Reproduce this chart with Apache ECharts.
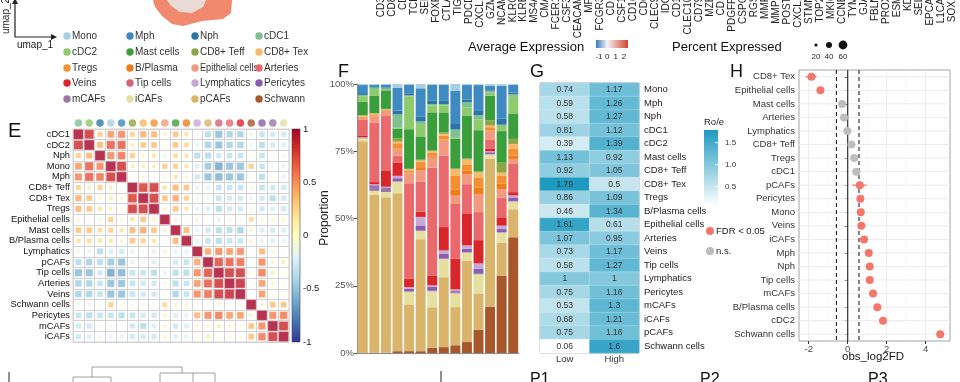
<!DOCTYPE html>
<html><head><meta charset="utf-8">
<script src="https://cdn.jsdelivr.net/npm/echarts@6.0.0/dist/echarts.min.js"></script>
<style>html,body{margin:0;padding:0;background:#fff}#c{width:960px;height:382px}</style>
</head><body><div id="c"></div>
<script>
// ---------- DATA ----------
const cellTypes = ['Mono','Mph','Nph','cDC1','cDC2','Mast cells','CD8+ Teff','CD8+ Tex','Tregs','B/Plasma','Epithelial cells','Arteries','Veins','Tip cells','Lymphatics','Pericytes','mCAFs','iCAFs','pCAFs','Schwann'];
const cellColors = ['#a6cfe3','#3f8bc1','#2a76a6','#80c190','#8dcb6c','#3a9f3a','#8ea545','#f9b86a','#f39132','#f07d1a','#f29a80','#e9696c','#d9262a','#d4647e','#c6a8d8','#8a5daf','#9b76a8','#e5e0a0','#d9b46a','#a8572a'];

const corrLabels = ['cDC1','cDC2','Nph','Mono','Mph','CD8+ Teff','CD8+ Tex','Tregs','Epithelial cells','Mast cells','B/Plasma cells','Lymphatics','pCAFs','Tip cells','Arteries','Veins','Schwann cells','Pericytes','mCAFs','iCAFs'];
const corrMatrix = [
[1.00,0.85,0.30,0.50,0.55,0.28,0.42,0.40,0.10,0.35,0.20,-0.15,-0.40,-0.55,-0.45,-0.45,-0.15,-0.35,-0.30,-0.30],
[0.85,1.00,0.40,0.70,0.70,0.15,0.35,0.35,0.05,0.35,0.25,-0.20,-0.45,-0.55,-0.45,-0.45,-0.15,-0.40,-0.30,-0.25],
[0.30,0.40,1.00,0.55,0.62,0.30,0.10,0.20,-0.15,0.25,0.20,-0.40,-0.40,-0.30,-0.35,-0.35,0.05,-0.35,0.05,-0.10],
[0.50,0.70,0.55,1.00,0.85,0.15,0.15,0.15,0.30,0.30,0.20,-0.25,-0.50,-0.65,-0.55,-0.55,0.30,-0.35,-0.10,-0.20],
[0.55,0.70,0.62,0.85,1.00,0.05,0.10,0.05,-0.10,0.20,0.10,-0.30,-0.55,-0.60,-0.55,-0.55,0.05,-0.40,-0.05,-0.20],
[0.28,0.15,0.30,0.15,0.05,1.00,0.80,0.85,0.20,0.40,0.35,-0.20,-0.20,-0.35,-0.35,-0.35,-0.10,-0.35,-0.30,-0.30],
[0.42,0.35,0.10,0.15,0.10,0.80,1.00,0.85,0.35,0.45,0.30,-0.10,-0.15,-0.35,-0.30,-0.30,-0.15,-0.30,-0.40,-0.30],
[0.40,0.35,0.20,0.15,0.05,0.85,0.85,1.00,0.10,0.35,0.20,-0.20,-0.25,-0.40,-0.30,-0.30,-0.10,-0.30,-0.25,-0.30],
[0.10,0.05,-0.15,0.30,-0.10,0.20,0.35,0.10,1.00,0.10,0.05,0.10,-0.05,-0.20,-0.10,-0.10,0.25,0.10,0.10,0.10],
[0.35,0.35,0.25,0.30,0.20,0.40,0.45,0.35,0.10,1.00,0.40,-0.20,-0.30,-0.40,-0.40,-0.45,0.10,-0.25,-0.30,-0.25],
[0.20,0.25,0.20,0.20,0.10,0.35,0.30,0.20,0.05,0.40,1.00,-0.20,-0.35,-0.40,-0.35,-0.35,0.10,-0.20,-0.25,-0.20],
[-0.15,-0.20,-0.40,-0.25,-0.30,-0.20,-0.10,-0.20,0.10,-0.20,-0.20,1.00,0.45,0.55,0.50,0.55,0.05,0.40,0.10,0.05],
[-0.40,-0.45,-0.40,-0.50,-0.55,-0.20,-0.15,-0.25,-0.05,-0.30,-0.35,0.45,1.00,0.75,0.70,0.65,-0.05,0.55,0.10,0.15],
[-0.55,-0.55,-0.30,-0.65,-0.60,-0.35,-0.35,-0.40,-0.20,-0.40,-0.40,0.55,0.75,1.00,0.85,0.85,0.05,0.60,0.15,0.05],
[-0.45,-0.45,-0.35,-0.55,-0.55,-0.35,-0.30,-0.30,-0.10,-0.40,-0.35,0.50,0.70,0.85,1.00,0.90,0.05,0.50,0.10,0.05],
[-0.45,-0.45,-0.35,-0.55,-0.55,-0.35,-0.30,-0.30,-0.10,-0.45,-0.35,0.55,0.65,0.85,0.90,1.00,0.05,0.50,0.05,0.05],
[-0.15,-0.15,0.05,0.30,0.05,-0.10,-0.15,-0.10,0.25,0.10,0.10,0.05,-0.05,0.05,0.05,0.05,1.00,0.10,0.35,0.35],
[-0.35,-0.40,-0.35,-0.35,-0.40,-0.35,-0.30,-0.30,0.10,-0.25,-0.20,0.40,0.55,0.60,0.50,0.50,0.10,1.00,0.55,0.60],
[-0.30,-0.30,0.05,-0.10,-0.05,-0.30,-0.40,-0.25,0.10,-0.30,-0.25,0.10,0.10,0.15,0.10,0.05,0.35,0.55,1.00,0.85],
[-0.30,-0.25,-0.10,-0.20,-0.20,-0.30,-0.30,-0.30,0.10,-0.25,-0.20,0.05,0.15,0.05,0.05,0.05,0.35,0.60,0.85,1.00]
];
const corrTicks = ['1','0.5','0','-0.5','-1'];

const sampleNames = ['S1','S2','S3','S4','S5','S6','S7','S8','S9','S10','S11','S12','S13','S14'];
// rows follow cellTypes order, columns follow sampleNames
const propRows = [
[0.4,0.3,0.2,1.5,0.2,1.6,0.3,0.3,2.5,0.4,0.4,0.7,0.7,0.3],
[3.0,1.0,1.2,8.5,3.5,10.5,6.0,6.0,12.5,5.4,9.7,1.7,12.3,2.9],
[0.7,0.2,0.3,1.4,0.6,1.9,1.2,1.2,2.1,1.0,1.6,0.4,2.2,0.6],
[0.5,0.4,0.2,5.0,0.3,1.0,0.5,0.5,3.1,2.0,1.6,0.4,0.5,1.0],
[2.1,2.6,0.5,0.3,12.4,4.6,2.6,2.6,0.3,3.0,4.0,1.2,1.9,6.4],
[5.0,6.4,7.0,3.7,14.9,8.7,14.3,7.4,11.2,16.1,15.5,9.3,11.8,9.3],
[0.2,0.2,0.1,1.2,0.2,0.3,0.2,0.6,0.3,0.3,0.3,1.9,3.7,1.9],
[0.3,0.3,0.2,0.6,0.4,0.6,0.5,0.6,2.5,1.9,1.9,0.6,1.2,1.9],
[0.5,0.5,0.3,1.9,0.8,1.9,1.6,1.5,5.0,2.4,3.7,1.3,3.0,2.4],
[0.3,0.2,0.2,0.3,0.3,1.2,0.4,0.4,2.4,1.3,2.5,0.3,2.0,1.3],
[0.3,2.5,1.9,2.5,3.7,4.3,3.7,5.6,3.1,3.7,6.8,3.1,3.1,1.9],
[6.0,22.3,20.5,2.5,36.0,11.2,40.3,26.7,20.5,10.9,10.5,3.3,7.4,10.5],
[0.7,0.8,6.2,5.0,3.1,1.9,3.7,8.7,11.5,12.0,8.7,1.0,3.1,1.2],
[0.1,0.1,0.1,0.1,0.1,0.1,0.1,0.1,0.1,0.1,0.1,0.1,0.1,0.1],
[0.1,0.3,0.2,0.8,0.5,3.1,0.4,1.2,0.6,1.2,1.9,0.3,1.2,0.9],
[0.1,0.6,0.5,1.1,1.0,1.9,1.5,1.6,0.6,1.2,1.9,0.7,1.2,1.2],
[0.1,1.5,1.2,0.2,0.2,0.2,0.2,0.3,0.2,0.2,0.2,0.1,0.1,0.1],
[1.1,1.5,2.0,4.3,4.7,3.1,6.0,6.8,5.2,3.1,7.2,1.5,3.7,2.9],
[79.5,59.4,58.7,59.2,17.6,41.8,15.1,26.1,14.3,30.4,13.6,55.6,12.4,10.5],
[0.1,0.1,0.1,0.7,0.7,0.7,2.0,2.2,2.9,4.1,8.7,17.4,28.9,43.2]
];
const propTicks = [0,25,50,75,100];

const roeLabels = ['Mono','Mph','Nph','cDC1','cDC2','Mast cells','CD8+ Teff','CD8+ Tex','Tregs','B/Plasma cells','Epithelial cells','Arteries','Veins','Tip cells','Lymphatics','Pericytes','mCAFs','iCAFs','pCAFs','Schwann cells'];
const roeLow  = [0.74,0.59,0.58,0.81,0.39,1.13,0.92,1.79,0.86,0.46,1.61,1.07,0.73,0.58,1,0.75,0.53,0.68,0.75,0.06];
const roeHigh = [1.17,1.26,1.27,1.12,1.39,0.92,1.05,0.5,1.09,1.34,0.61,0.95,1.17,1.27,1,1.16,1.3,1.21,1.16,1.6];
const roeGroups = ['Low','High'];
const roeTicks = [1.5,1.0,0.5];

const fdLabels = ['CD8+ Tex','Epithelial cells','Mast cells','Arteries','Lymphatics','CD8+ Teff','Tregs','cDC1','pCAFs','Pericytes','Mono','Veins','iCAFs','Mph','Nph','Tip cells','mCAFs','B/Plasma cells','cDC2','Schwann cells'];
const fdValues = [-1.86,-1.40,-0.29,-0.19,-0.02,0.19,0.33,0.44,0.62,0.65,0.67,0.70,0.84,1.08,1.13,1.13,1.30,1.52,1.81,4.75];
const fdCiLow  = [-2.15,-1.50,-0.36,-0.26,-0.10,0.12,0.26,0.38,0.24,0.58,0.60,0.63,0.77,1.01,1.06,1.06,1.23,1.45,1.74,4.68];
const fdCiHigh = [-1.60,-1.30,-0.22,-0.12,0.06,0.26,0.40,0.50,0.96,0.72,0.74,0.77,0.91,1.15,1.20,1.20,1.37,1.59,1.88,4.82];
const fdSig = [1,1,0,0,0,0,0,0,1,1,1,1,1,1,1,1,1,1,1,1];
const fdMajor = [-2,0,2,4];
const fdMinor = [-1,1,3,5];
const fdThresh = [-0.58,0,0.58];

const genes = ['CD3D','CD8A','CD4','TCF7','SELL','FOXP3','CTLA4','TIGIT','PDCD1','CXCL13','GZMK','NCAM1','KLRC1','KLRB1','MS4A2','CMA1','FCER1A','CSF3R','CEACAM8','MPO','FCGR3B','CD14','CSF1R','CD163','CD68','CLEC9A','IDO1','CD1C','CLEC10A','CD79A','MZB1','CD19','PDGFRB','CSPG4','RGS5','MMP2','MMP11','POSTN','CXCL12','STMN1','TOP2A','MKI67','CCNB1','TYMS','GJA5','FBLN5','PROX1','ESM1','KDR','SELE','EPCAM','L1CAM','SOX10'];
const avgExprTicks = ['-1','0','1','2'];
const pctTicks = [20,40,60];

// ---------- BUILD ----------
const FONT = '"Liberation Sans", Arial, Helvetica, sans-serif';
const chart = echarts.init(document.getElementById('c'));
const colorOf = {};
cellTypes.forEach((t,i)=>{colorOf[t]=cellColors[i];});
colorOf['B/Plasma cells']=colorOf['B/Plasma'];
colorOf['Schwann cells']=colorOf['Schwann'];

const rdylbu = ['#313695','#4575b4','#74add1','#abd9e9','#e0f3f8','#ffffbf','#fee090','#fdae61','#f46d43','#d73027','#a50026'];

const corrData = [];
corrMatrix.forEach((row,ri)=>row.forEach((v,ci)=>corrData.push([ci,ri,v])));

const totals = sampleNames.map((s,j)=>propRows.reduce((a,r)=>a+r[j],0));
const propPct = propRows.map(r=>r.map((v,j)=>v/totals[j]*100));

const roeData = [];
roeLabels.forEach((l,i)=>{roeData.push([0,i,roeLow[i]]);roeData.push([1,i,roeHigh[i]]);});

const series = [];
series.push({type:'scatter',xAxisIndex:0,yAxisIndex:0,symbol:'rect',data:corrData,silent:true,
  symbolSize:v=>Math.max(1.3,Math.sqrt(Math.abs(v[2]))*10),
  itemStyle:{borderColor:'rgba(255,255,255,0.7)',borderWidth:0.6}});
series.push({type:'scatter',xAxisIndex:5,yAxisIndex:5,symbolSize:7.5,silent:true,
  data:corrLabels.map((l,i)=>({value:[i,0],itemStyle:{color:colorOf[l]}}))});
for(let i=cellTypes.length-1;i>=0;i--){
  series.push({type:'bar',name:cellTypes[i],stack:'prop',xAxisIndex:1,yAxisIndex:1,barCategoryGap:'14%',silent:true,
    itemStyle:{color:cellColors[i]},data:propPct[i]});
}
const gIdx = series.length;
series.push({type:'heatmap',xAxisIndex:2,yAxisIndex:2,data:roeData,silent:true,
  label:{show:true,fontSize:8.5,color:'#333',fontFamily:FONT,formatter:p=>String(p.data[2])},
  itemStyle:{borderColor:'rgba(255,255,255,0.45)',borderWidth:0.5}});
// H grid lines
series.push({type:'custom',xAxisIndex:3,yAxisIndex:3,silent:true,z:1,
  data:fdMajor.map(v=>[v,0,1]).concat(fdMinor.map(v=>[v,0,0])),
  renderItem:(params,api)=>{const cs=params.coordSys;const x=api.coord([api.value(0),0])[0];const major=api.value(2)===1;
    return {type:'line',shape:{x1:x,y1:cs.y,x2:x,y2:cs.y+cs.height},style:{stroke:major?'#ebebeb':'#f5f5f5',lineWidth:major?1:0.6}};}});
series.push({type:'custom',xAxisIndex:3,yAxisIndex:3,silent:true,z:1,
  data:fdLabels.map((l,i)=>[0,i]),
  renderItem:(params,api)=>{const cs=params.coordSys;const y=api.coord([0,api.value(1)])[1];
    return {type:'line',shape:{x1:cs.x,y1:y,x2:cs.x+cs.width,y2:y},style:{stroke:'#ebebeb',lineWidth:1}};}});
series.push({type:'custom',xAxisIndex:3,yAxisIndex:3,silent:true,z:2,
  data:fdThresh.map(v=>[v,0]),
  renderItem:(params,api)=>{const cs=params.coordSys;const v=api.value(0);const x=api.coord([v,0])[0];
    return {type:'line',shape:{x1:x,y1:cs.y,x2:x,y2:cs.y+cs.height},style:{stroke:'#222',lineWidth:1.1,lineDash:v===0?null:[4,3]}};}});
series.push({type:'custom',xAxisIndex:3,yAxisIndex:3,silent:true,z:3,
  data:fdLabels.map((l,i)=>[fdCiLow[i],i,fdCiHigh[i],fdSig[i]]),
  renderItem:(params,api)=>{const p1=api.coord([api.value(0),api.value(1)]);const p2=api.coord([api.value(2),api.value(1)]);
    return {type:'line',shape:{x1:p1[0],y1:p1[1],x2:p2[0],y2:p2[1]},style:{stroke:api.value(3)?'#f3766b':'#bdbdbd',lineWidth:1.3}};}});
series.push({type:'scatter',xAxisIndex:3,yAxisIndex:3,symbolSize:8,z:4,silent:true,
  data:fdValues.map((v,i)=>[v,i,fdSig[i]]),
  itemStyle:{opacity:1,color:p=>p.data[2]?'#f3766b':'#bdbdbd'}});
series.push({type:'scatter',xAxisIndex:4,yAxisIndex:4,data:[]});

const gridBase = {containLabel:false,outerBoundsMode:'none'};
const grids = [
  Object.assign({left:73,top:129,width:216,height:213,show:true,borderColor:'#d2d2d2',borderWidth:1,backgroundColor:'#fff'},gridBase),
  Object.assign({left:357,top:84,width:162,height:269},gridBase),
  Object.assign({left:540,top:83,width:99,height:270,show:true,borderColor:'#9a9a9a',borderWidth:1},gridBase),
  Object.assign({left:799,top:70,width:151,height:271,show:true,borderColor:'#8a8a8a',borderWidth:0.8},gridBase),
  Object.assign({left:375.5,top:-100,width:582,height:82},gridBase),
  Object.assign({left:73,top:118,width:216,height:10},gridBase)
];
const noLine={show:false}, noTick={show:false};
const xAxes = [
  {type:'category',gridIndex:0,data:corrLabels,position:'top',axisLabel:{show:false},axisLine:noLine,axisTick:noTick,
    splitLine:{show:true,interval:0,lineStyle:{color:'#d2d2d2',width:1}}},
  {type:'category',gridIndex:1,data:sampleNames,axisLabel:{show:false},axisTick:noTick,axisLine:{show:true,lineStyle:{color:'#8c8c8c',width:1}}},
  {type:'category',gridIndex:2,data:roeGroups,axisLabel:{fontSize:9.5,color:'#333',margin:1,fontFamily:FONT},axisTick:noTick,axisLine:noLine},
  {type:'value',gridIndex:3,min:-2.5,max:5.25,splitLine:{show:false},axisLine:noLine,
    axisLabel:{customValues:fdMajor,fontSize:9.5,color:'#4d4d4d',margin:3,fontFamily:FONT},
    axisTick:{show:true,customValues:fdMajor,length:3,lineStyle:{color:'#333'}}},
  {type:'category',gridIndex:4,data:genes,position:'bottom',axisLine:noLine,axisTick:noTick,
    axisLabel:{rotate:90,interval:0,fontSize:10,color:'#222',margin:8,fontFamily:FONT}},
  {type:'category',gridIndex:5,data:corrLabels,show:false}
];
const yAxes = [
  {type:'category',gridIndex:0,data:corrLabels,inverse:true,axisLine:noLine,axisTick:noTick,
    axisLabel:{interval:0,fontSize:9.3,color:'#111',margin:3,fontFamily:FONT},
    splitLine:{show:true,interval:0,lineStyle:{color:'#d2d2d2',width:1}}},
  {type:'value',gridIndex:1,min:0,max:100,interval:25,splitLine:{show:false},
    axisLine:{show:true,lineStyle:{color:'#8c8c8c'}},axisTick:{show:true,length:3,lineStyle:{color:'#555'}},
    axisLabel:{formatter:'{value}%',fontSize:9.5,color:'#555',margin:3,fontFamily:FONT}},
  {type:'category',gridIndex:2,data:roeLabels,inverse:true,position:'right',axisLine:noLine,axisTick:noTick,
    axisLabel:{interval:0,fontSize:9.5,color:'#222',margin:5,fontFamily:FONT}},
  {type:'category',gridIndex:3,data:fdLabels,inverse:true,axisLine:noLine,
    axisTick:{show:true,interval:0,alignWithLabel:true,length:3,lineStyle:{color:'#333'}},
    axisLabel:{interval:0,fontSize:9.5,color:'#333',margin:4,fontFamily:FONT},splitLine:{show:false}},
  {type:'value',gridIndex:4,show:false},
  {type:'value',gridIndex:5,show:false,min:-1,max:1}
];

// ---------- GRAPHICS (legends, labels) ----------
const g = [];
const txt = (x,y,text,o)=>Object.assign({type:'text',x:x,y:y,silent:true,style:Object.assign({text:text,fontFamily:FONT,fontSize:10,fill:'#222',textVerticalAlign:'middle'},o||{})});
// umap fragment
g.push({type:'polygon',silent:true,shape:{points:[[153,0],[232,0],[231,13],[223,19],[202,21],[183,26],[172,24],[162,16],[155,7]]},style:{fill:'#f0896d'}});
g.push({type:'polygon',silent:true,shape:{points:[[167,0],[206,0],[203,7],[192,13],[180,12],[171,6]]},style:{fill:'#e9dcd7'}});
g.push({type:'polyline',silent:true,shape:{points:[[15,3],[15,37],[53,37]]},style:{stroke:'#222',lineWidth:1.2,fill:null}});
g.push({type:'polygon',silent:true,shape:{points:[[51,34],[57,37],[51,40]]},style:{fill:'#222'}});
g.push({type:'polygon',silent:true,shape:{points:[[12,4],[15,-2],[18,4]]},style:{fill:'#222'}});
g.push(Object.assign(txt(6,16,'umap_2',{textAlign:'center',fontSize:10}),{rotation:Math.PI/2}));
g.push(txt(35,45,'umap_1',{textAlign:'center',fontSize:10}));
// cell type legend
const legX=[67,130,195,259], legY=[36,52,68,83,99];
const mctx=document.createElement('canvas').getContext('2d'); mctx.font='10px '+FONT;
cellTypes.forEach((t,i)=>{
  const cx=legX[i%4], cy=legY[Math.floor(i/4)];
  g.push({type:'circle',silent:true,shape:{cx:cx,cy:cy,r:3.7},style:{fill:cellColors[i]}});
  const w=mctx.measureText(t).width, maxW=58;
  const el=txt(cx+5,cy,t,{fill:'#333'});
  if(w>maxW){el.scaleX=maxW/w;}
  g.push(el);
});
// panel letters
g.push(txt(8,131,'E',{fontSize:20,fill:'#111'}));
g.push(txt(338,72,'F',{fontSize:18,fill:'#111'}));
g.push(txt(530,72,'G',{fontSize:18,fill:'#111'}));
g.push(txt(730,72,'H',{fontSize:18,fill:'#111'}));
// E colorbar
g.push({type:'rect',silent:true,shape:{x:292,y:129,width:8,height:213},
  style:{fill:new echarts.graphic.LinearGradient(0,0,0,1,rdylbu.slice().reverse().map((c,i,a)=>({offset:i/(a.length-1),color:c}))),stroke:'#444',lineWidth:0.6}});
corrTicks.forEach((t,i)=>g.push(txt(303,129+i*213/4,t,{fontSize:9.5,fill:'#222'})));
// F y title
g.push(Object.assign(txt(325,218,'Proportion',{textAlign:'center',fontSize:12,fill:'#222'}),{rotation:Math.PI/2}));
// G colorbar
const cbTop=130, cbH=76, vmin=0.06, vmax=1.79;
g.push(txt(704,122,'Ro/e',{fontSize:9.5,fill:'#222'}));
g.push({type:'rect',silent:true,shape:{x:704,y:cbTop,width:14,height:cbH},
  style:{fill:new echarts.graphic.LinearGradient(0,0,0,1,[{offset:0,color:'#1d9ac0'},{offset:1,color:'#ffffff'}])}});
roeTicks.forEach(v=>{const y=cbTop+(vmax-v)/(vmax-vmin)*cbH;
  g.push({type:'line',silent:true,shape:{x1:715,y1:y,x2:718,y2:y},style:{stroke:'#fff',lineWidth:1}});
  g.push(txt(725,y,v.toFixed(1),{fontSize:8,fill:'#333'}));});
// H legend
g.push({type:'circle',silent:true,shape:{cx:710,cy:231,r:4},style:{fill:'#f3766b'}});
g.push(txt(716,231,'FDR < 0.05',{fontSize:9.5,fill:'#222'}));
g.push({type:'circle',silent:true,shape:{cx:710,cy:251,r:4},style:{fill:'#bdbdbd'}});
g.push(txt(716,251,'n.s.',{fontSize:9.5,fill:'#222'}));
g.push(txt(873,357,'obs_log2FD',{textAlign:'center',fontSize:11.5,fill:'#111'}));
// dot plot legends (top)
g.push(txt(468,47,'Average Expression',{fontSize:13,fill:'#111'}));
g.push({type:'rect',silent:true,shape:{x:596,y:40,width:32,height:8},
  style:{fill:new echarts.graphic.LinearGradient(0,0,1,0,[{offset:0,color:'#3a78bd'},{offset:0.35,color:'#f4f4f4'},{offset:1,color:'#d7432f'}])}});
avgExprTicks.forEach((t,i)=>g.push(txt(599+i*8.3,57,t,{fontSize:8,textAlign:'center',fill:'#222'})));
g.push(txt(672,47,'Percent Expressed',{fontSize:13,fill:'#111'}));
const pctX=[816,829,843], pctR=[1.6,3,4.4];
pctTicks.forEach((t,i)=>{g.push({type:'circle',silent:true,shape:{cx:pctX[i],cy:45,r:pctR[i]},style:{fill:'#111'}});
  g.push(txt(pctX[i],57,String(t),{fontSize:8,textAlign:'center',fill:'#222'}));});
// bottom strip
g.push({type:'line',silent:true,shape:{x1:9,y1:372,x2:9,y2:382},style:{stroke:'#222',lineWidth:1}});
g.push({type:'line',silent:true,shape:{x1:441,y1:371,x2:441,y2:382},style:{stroke:'#222',lineWidth:1}});
const dendro=[[92,367,182,367],[92,367,92,377],[73,377,111,377],[73,377,73,382],[111,377,111,382],[182,367,182,373],[160,373,215,373],[160,373,160,382],[215,373,215,382],[193,373,193,382]];
dendro.forEach(d=>g.push({type:'line',silent:true,shape:{x1:d[0],y1:d[1],x2:d[2],y2:d[3]},style:{stroke:'#888',lineWidth:0.8}}));
['P1','P2','P3'].forEach((t,i)=>g.push({type:'text',silent:true,x:[530,700,868][i],y:372,style:{text:t,fontFamily:FONT,fontSize:16,fill:'#111',textVerticalAlign:'top'}}));

chart.setOption({
  animation:false,
  textStyle:{fontFamily:FONT},
  grid:grids, xAxis:xAxes, yAxis:yAxes, series:series,
  visualMap:[
    {type:'continuous',show:false,seriesIndex:0,dimension:2,min:-1,max:1,inRange:{color:rdylbu}},
    {type:'continuous',show:false,seriesIndex:gIdx,dimension:2,min:vmin,max:vmax,inRange:{color:['#ffffff','#1d9ac0']}}
  ],
  graphic:g
});
</script></body></html>
